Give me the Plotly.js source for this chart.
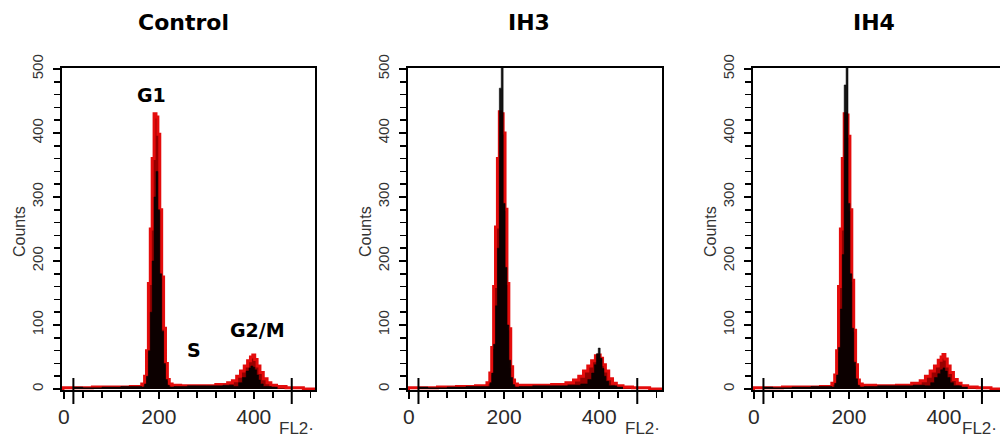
<!DOCTYPE html>
<html>
<head>
<meta charset="utf-8">
<script src="https://cdn.plot.ly/plotly-3.0.1.min.js"></script>
<style>html,body{margin:0;padding:0;background:#fff;overflow:hidden}#chart{width:1000px;height:438px}</style>
</head>
<body>
<div id="chart"></div>
<script>
// ---------- data ----------
const panelTitles = ["Control", "IH3", "IH4"];
const phaseLabels = ["G1", "S", "G2/M"];
const phaseLabelX = [185, 275, 408];
const phaseLabelY = [459, 61, 92];
const xTickVals = [0, 200, 400];
const yTickVals = [0, 100, 200, 300, 400, 500];
const cursorMarks = [20, 480];

// fitted (red) envelope: channel, counts
const ctrlFitX = [-4, 0, 40, 80, 120, 160, 168, 172, 176, 180, 184, 188, 192, 196, 200, 204, 208, 212, 216, 220, 224, 232, 260, 300, 340, 350, 360, 368, 376, 384, 390, 396, 400, 404, 410, 416, 424, 432, 440, 456, 480, 529];
const ctrlFitY = [0, 2, 2, 3, 3, 4, 8, 20, 60, 165, 250, 360, 430, 425, 398, 280, 175, 95, 40, 15, 8, 6, 5, 5, 7, 10, 13, 20, 28, 36, 44, 50, 53, 46, 36, 26, 16, 10, 6, 4, 2, 0];
const ih3FitX = [-2, 0, 40, 80, 120, 160, 168, 172, 176, 180, 184, 188, 192, 196, 200, 204, 208, 212, 216, 220, 224, 232, 280, 320, 340, 352, 362, 372, 380, 388, 396, 400, 404, 410, 416, 424, 432, 440, 460, 480, 532];
const ih3FitY = [0, 2, 2, 3, 4, 5, 10, 25, 65, 160, 253, 360, 433, 430, 400, 281, 165, 94, 35, 14, 8, 6, 6, 7, 10, 14, 20, 28, 36, 44, 52, 53, 48, 38, 28, 16, 9, 5, 3, 2, 0];
const ih4FitX = [-2, 0, 40, 80, 120, 160, 168, 172, 176, 180, 184, 188, 192, 196, 200, 204, 208, 212, 216, 220, 224, 232, 280, 320, 344, 356, 366, 376, 384, 392, 396, 400, 404, 410, 416, 424, 432, 440, 460, 480, 518];
const ih4FitY = [0, 2, 2, 3, 3, 4, 9, 22, 60, 160, 250, 360, 430, 428, 395, 280, 170, 92, 38, 14, 8, 6, 5, 6, 9, 13, 20, 28, 36, 45, 50, 54, 47, 36, 26, 15, 9, 5, 3, 2, 0];

// measured histogram (black): channel, counts
const ctrlHistX = [20, 60, 100, 140, 160, 168, 172, 176, 180, 184, 188, 192, 196, 200, 204, 208, 212, 216, 220, 224, 240, 280, 320, 350, 364, 372, 380, 388, 392, 396, 400, 404, 408, 412, 416, 424, 450];
const ctrlHistY = [3, 2, 3, 4, 4, 3, 8, 20, 60, 120, 200, 300, 340, 280, 180, 90, 40, 15, 6, 3, 4, 5, 5, 6, 4, 10, 18, 28, 33, 36, 34, 30, 22, 14, 8, 4, 3];
const ih3HistX = [20, 60, 100, 140, 160, 168, 172, 176, 180, 184, 188, 192, 196, 200, 204, 208, 212, 216, 220, 224, 240, 280, 320, 350, 372, 380, 388, 392, 396, 400, 404, 408, 412, 416, 424, 450];
const ih3HistY = [3, 2, 3, 4, 4, 4, 10, 25, 70, 130, 220, 470, 560, 290, 190, 100, 45, 18, 7, 3, 4, 5, 5, 6, 8, 15, 25, 38, 55, 64, 48, 32, 20, 12, 5, 3];
const ih4HistX = [20, 60, 100, 140, 160, 168, 172, 176, 180, 184, 188, 192, 196, 200, 204, 208, 212, 216, 220, 224, 240, 280, 320, 350, 368, 376, 384, 390, 396, 400, 404, 410, 416, 424, 450];
const ih4HistY = [3, 2, 3, 4, 4, 3, 9, 22, 65, 125, 210, 475, 560, 290, 180, 95, 42, 16, 6, 3, 4, 5, 5, 6, 5, 10, 18, 24, 30, 33, 28, 18, 10, 5, 3];

// ---------- layout geometry ----------
const W = 1000, H = 438;
const panels = [
  {fitX: ctrlFitX, fitY: ctrlFitY, histX: ctrlHistX, histY: ctrlHistY, px: [62, 315], xr: [-4, 529], rightLine: true, labels: true},
  {fitX: ih3FitX, fitY: ih3FitY, histX: ih3HistX, histY: ih3HistY, px: [408, 662], xr: [-2, 532], rightLine: true, labels: false},
  {fitX: ih4FitX, fitY: ih4FitY, histX: ih4HistX, histY: ih4HistY, px: [753, 1000], xr: [-2, 518], rightLine: false, labels: false}
];
const plotTop = 68, plotBottom = 390;
const yDomain = [(H - plotBottom) / H, (H - plotTop) / H];
const yRange = [-1.5, 501.5];
const FONT = "Liberation Sans, Arial, sans-serif";
const BOLD = "DejaVu Sans, Liberation Sans, Arial, sans-serif";

const traces = [];
const layout = {
  width: W, height: H,
  margin: {l: 0, r: 0, t: 0, b: 0},
  paper_bgcolor: "#fff", plot_bgcolor: "#fff",
  showlegend: false,
  font: {family: FONT, color: "#222"},
  annotations: [], shapes: []
};

panels.forEach((p, i) => {
  const n = i === 0 ? "" : String(i + 1);
  const xa = "x" + n, ya = "y" + n;
  traces.push({
    type: "scatter", mode: "lines", x: p.fitX, y: p.fitY, xaxis: xa, yaxis: ya,
    line: {shape: "hvh", color: "rgb(228,12,12)", width: 3},
    fill: "tozeroy", fillcolor: "rgb(150,0,0)", hoverinfo: "skip"
  });
  traces.push({
    type: "scatter", mode: "lines", x: p.histX, y: p.histY, xaxis: xa, yaxis: ya,
    line: {shape: "hvh", color: "rgba(0,0,0,0.9)", width: 0.6},
    fill: "tozeroy", fillcolor: "rgba(0,0,0,0.92)", hoverinfo: "skip"
  });
  layout["xaxis" + n] = {
    domain: [p.px[0] / W, p.px[1] / W], range: p.xr, anchor: ya,
    showline: true, linecolor: "#000", linewidth: 2, mirror: true,
    ticks: "outside", ticklen: 7, tickwidth: 1.5, tickcolor: "#000",
    tickmode: "array", tickvals: xTickVals, ticktext: xTickVals.map(String),
    minor: {tickmode: "linear", tick0: 0, dtick: 40, ticks: "outside", ticklen: 6, tickwidth: 1.5, tickcolor: "#000", showgrid: false},
    tickfont: {size: 21, color: "#2a2a2a", family: FONT},
    showgrid: false, zeroline: false, fixedrange: true
  };
  layout["yaxis" + n] = {
    domain: yDomain, range: yRange, anchor: xa,
    showline: true, linecolor: "#000", linewidth: 2, mirror: p.rightLine,
    ticks: "outside", ticklen: 7, tickwidth: 1.5, tickcolor: "#000",
    tickmode: "array", tickvals: yTickVals, ticktext: yTickVals.map(String),
    minor: {tickmode: "linear", tick0: 0, dtick: 20, ticks: "outside", ticklen: 6, tickwidth: 1.5, tickcolor: "#000", showgrid: false},
    tickangle: -90, ticklabelstandoff: 4,
    tickfont: {size: 15, color: "#333", family: FONT},
    showgrid: false, zeroline: false, fixedrange: true
  };
  // panel title
  layout.annotations.push({
    text: panelTitles[i], xref: "paper", yref: "paper",
    x: (p.px[0] + 121) / W, y: (H - 22) / H, xanchor: "center", yanchor: "middle",
    showarrow: false, font: {size: 22, family: BOLD, color: "#000", weight: 700}
  });
  // y axis title
  layout.annotations.push({
    text: "Counts", xref: "paper", yref: "paper", textangle: -90,
    x: (p.px[0] - 43) / W, y: (H - 232) / H, xanchor: "center", yanchor: "middle",
    showarrow: false, font: {size: 16, family: FONT, color: "#333"}
  });
  // x axis label
  layout.annotations.push({
    text: "FL2·", xref: "paper", yref: "paper",
    x: Math.min(p.px[0] + 215, W - 40) / W, y: (H - 428) / H, xanchor: "left", yanchor: "middle",
    showarrow: false, font: {size: 17, family: FONT, color: "#333"}
  });
  // cursor marks
  cursorMarks.forEach(c => {
    const f = (c - p.xr[0]) / (p.xr[1] - p.xr[0]);
    layout.shapes.push({
      type: "line", xref: xa + " domain", yref: "paper",
      x0: f, x1: f, y0: (H - 404) / H, y1: (H - 378) / H,
      line: {color: "#000", width: 2}
    });
  });
  if (p.labels) {
    phaseLabels.forEach((t, k) => {
      layout.annotations.push({
        text: t, xref: xa, yref: ya, x: phaseLabelX[k], y: phaseLabelY[k],
        xanchor: "center", yanchor: "middle", showarrow: false,
        font: {size: 19, family: BOLD, color: "#000", weight: 700}
      });
    });
  }
});

Plotly.newPlot("chart", traces, layout, {staticPlot: true, displayModeBar: false});
</script>
</body>
</html>
